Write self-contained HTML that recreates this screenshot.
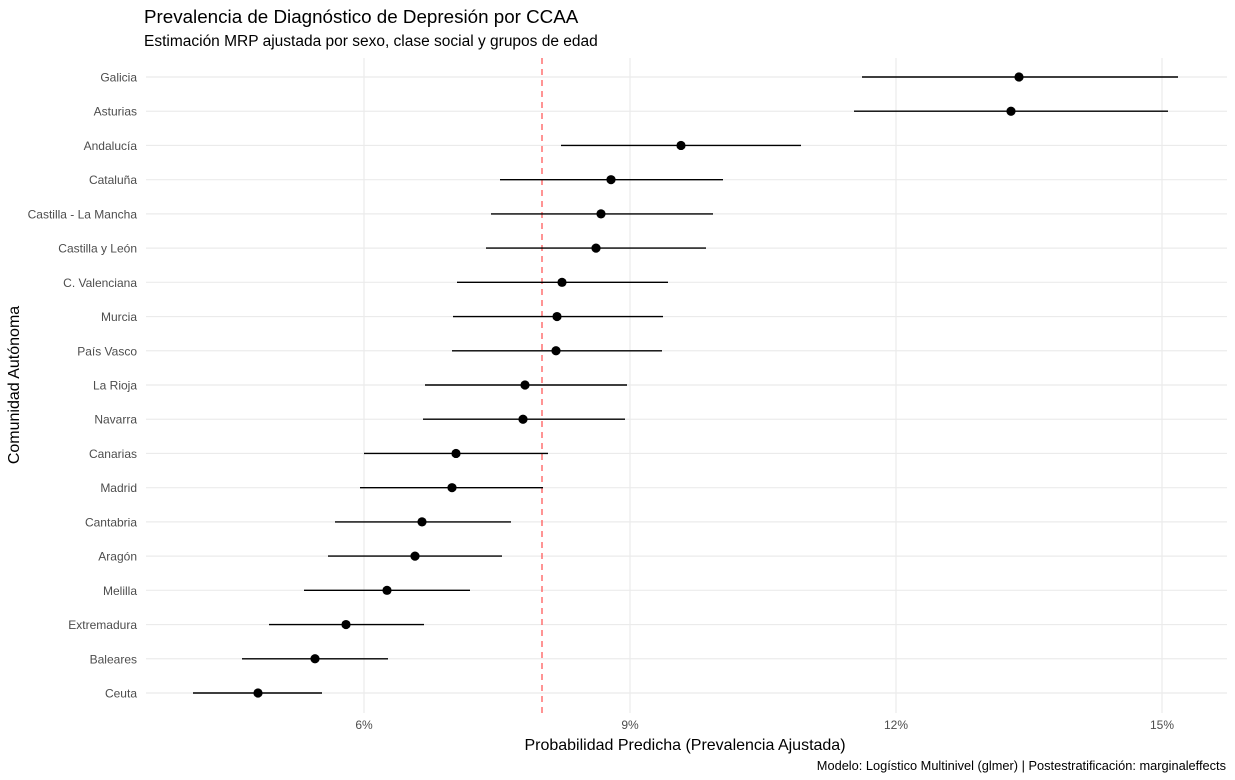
<!DOCTYPE html>
<html><head><meta charset="utf-8"><style>body{margin:0;background:#fff}svg{display:block}</style></head><body>
<svg width="1235" height="780" xmlns="http://www.w3.org/2000/svg" font-family="Liberation Sans, sans-serif">
<rect width="1235" height="780" fill="#fff"/>
<text x="144" y="23" font-size="18.8" fill="#000">Prevalencia de Diagnóstico de Depresión por CCAA</text>
<text x="144" y="46" font-size="15.5" fill="#000">Estimación MRP ajustada por sexo, clase social y grupos de edad</text>
<g stroke="#ebebeb" stroke-width="1.2">
<line x1="364" y1="58" x2="364" y2="713"/><line x1="630" y1="58" x2="630" y2="713"/><line x1="896" y1="58" x2="896" y2="713"/><line x1="1162" y1="58" x2="1162" y2="713"/>
</g>
<g id="rows" stroke="#ebebeb" stroke-width="1.2"></g>
<line x1="542" y1="58" x2="542" y2="713" stroke="#ff5a5a" stroke-width="1.3" stroke-dasharray="6,5"/>
<g id="data"></g>
<g font-size="12" fill="#4d4d4d" text-anchor="middle">
<text x="364" y="729">6%</text><text x="630" y="729">9%</text><text x="896" y="729">12%</text><text x="1162" y="729">15%</text>
</g>
<text x="685" y="750" font-size="16" text-anchor="middle">Probabilidad Predicha (Prevalencia Ajustada)</text>
<text x="19" y="385" font-size="16" text-anchor="middle" transform="rotate(-90 19 385)">Comunidad Autónoma</text>
<text x="1226" y="770" font-size="12.8" text-anchor="end">Modelo: Logístico Multinivel (glmer) | Postestratificación: marginaleffects</text>
<g id="labels" font-size="12" fill="#4d4d4d" text-anchor="end"></g>
<script>
var d=[["Galicia",1019,862,1178],["Asturias",1011,854,1168],["Andalucía",681,561,801],["Cataluña",611,500,723],["Castilla - La Mancha",601,491,713],["Castilla y León",596,486,706],["C. Valenciana",562,457,668],["Murcia",557,453,663],["País Vasco",556,452,662],["La Rioja",525,425,627],["Navarra",523,423,625],["Canarias",456,364,548],["Madrid",452,360,543],["Cantabria",422,335,511],["Aragón",415,328,502],["Melilla",387,304,470],["Extremadura",346,269,424],["Baleares",315,242,388],["Ceuta",258,193,322]];
var ns="http://www.w3.org/2000/svg",R=document.getElementById("rows"),D=document.getElementById("data"),L=document.getElementById("labels");
function el(t,a,p){var e=document.createElementNS(ns,t);for(var k in a)e.setAttribute(k,a[k]);p.appendChild(e);return e;}
d.forEach(function(r,i){var y=77+i*(616/18);
el("line",{x1:146,x2:1227,y1:y,y2:y},R);
el("line",{x1:r[2],x2:r[3],y1:y,y2:y,stroke:"#000","stroke-width":1.4},D);
el("circle",{cx:r[1],cy:y,r:4.6,fill:"#000"},D);
var t=el("text",{x:137,y:y+4.5},L);t.textContent=r[0];});
</script>
</svg>
</body></html>
